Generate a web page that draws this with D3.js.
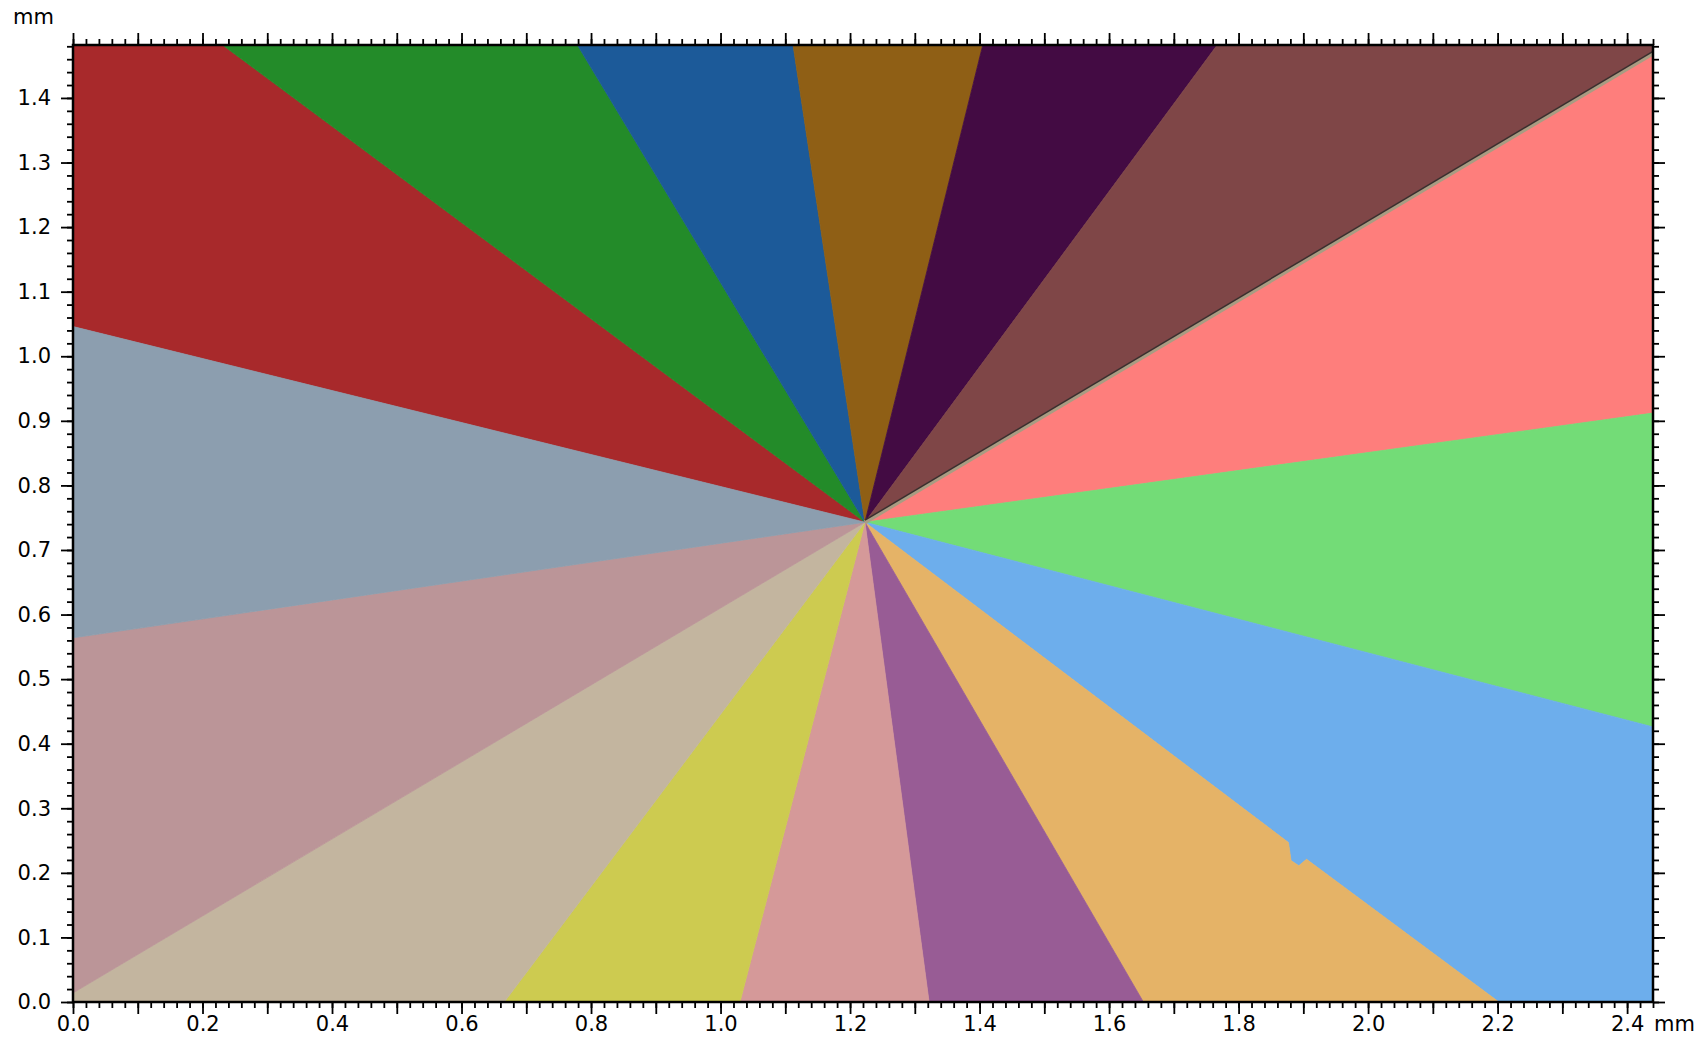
<!DOCTYPE html>
<html>
<head>
<meta charset="utf-8">
<script src="https://cdn.jsdelivr.net/npm/d3@7"></script>
<style>
  html, body { margin: 0; padding: 0; background: #fff; }
  svg { display: block; }
</style>
</head>
<body>
<div id="chart"></div>
<script>
// 1. data (mm)

// extent of the image
const xMax = 2.44, yMax = 1.482;

// junction where all grains meet
const center = [1.223, 0.743];

// grain boundaries, clockwise starting at left edge; each runs edge -> center
const boundaries = [
  [[0.000, 1.046]],
  [[0.231, yMax]],
  [[0.779, yMax]],
  [[1.112, yMax]],
  [[1.405, yMax]],
  [[1.767, yMax]],
  [[xMax, 1.469]],
  [[xMax, 0.912]],
  [[xMax, 0.426]],
  [[2.202, 0.000], [1.905, 0.221], [1.893, 0.211], [1.881, 0.219], [1.877, 0.247]],
  [[1.653, 0.000]],
  [[1.322, 0.000]],
  [[1.030, 0.000]],
  [[0.666, 0.000]],
  [[0.000, 0.014]],
  [[0.000, 0.564]]
];

// wedge colour between boundary i and i+1
const wedgeColors = [
  "#a8292b", "#238b29", "#1c5a99", "#8f5f15",
  "#430b43", "#7f4647", "#fe7e7c", "#73dc77",
  "#6daeec", "#e5b367", "#985c95", "#d59999",
  "#cdcb50", "#c3b59f", "#bb9598", "#8c9eaf"
];

const xTickLabels = [0.0, 0.2, 0.4, 0.6, 0.8, 1.0, 1.2, 1.4, 1.6, 1.8, 2.0, 2.2, 2.4];
const yTickLabels = [0.0, 0.1, 0.2, 0.3, 0.4, 0.5, 0.6, 0.7, 0.8, 0.9, 1.0, 1.1, 1.2, 1.3, 1.4];

// 2. layout
const W = 1704, H = 1045;
const margin = {top: 45, left: 73};
const plotW = 1580, plotH = 957;
const FONT = '"DejaVu Sans", Verdana, sans-serif';
const FSIZE = '21px';

const x = d3.scaleLinear().domain([0, xMax]).range([margin.left, margin.left + plotW]);
const y = d3.scaleLinear().domain([0, yMax]).range([margin.top + plotH, margin.top]);

const svg = d3.select('#chart').append('svg')
  .attr('width', W).attr('height', H);

svg.append('clipPath').attr('id', 'plot-clip')
  .append('rect')
    .attr('x', x(0)).attr('y', y(yMax))
    .attr('width', x(xMax) - x(0)).attr('height', y(0) - y(yMax));

// 3. wedges
const P = 2 * xMax + 2 * yMax;
const corners = [
  {p: [xMax, yMax], s: xMax},
  {p: [xMax, 0],    s: xMax + yMax},
  {p: [0, 0],       s: 2 * xMax + yMax},
  {p: [0, yMax],    s: P}
];
// position along the border, clockwise from the top-left corner
function perim([px, py]) {
  const e = 1e-6;
  if (py >= yMax - e) return px;
  if (px >= xMax - e) return xMax + (yMax - py);
  if (py <= e) return xMax + yMax + (xMax - px);
  return 2 * xMax + yMax + py;
}

const wedges = boundaries.map((A, i) => {
  const B = boundaries[(i + 1) % boundaries.length];
  const sA = perim(A[0]);
  let sB = perim(B[0]);
  if (sB < sA) sB += P;
  const cs = [];
  corners.forEach(c => {
    [c.s, c.s + P, c.s - P].forEach(s => { if (s > sA && s < sB) cs.push({p: c.p, s}); });
  });
  cs.sort((a, b) => a.s - b.s);
  const pts = [center].concat(A.slice().reverse(), cs.map(c => c.p), B);
  return {pts, color: wedgeColors[i]};
});

const line = d3.line().x(d => x(d[0])).y(d => y(d[1]));

const gPlot = svg.append('g').attr('clip-path', 'url(#plot-clip)');
gPlot.selectAll('path.wedge').data(wedges).join('path')
  .attr('class', 'wedge')
  .attr('d', d => line(d.pts) + 'Z')
  .attr('fill', d => d.color)
  .attr('stroke', d => d.color)
  .attr('stroke-width', 0.8);

// maroon / salmon boundary has a visible seam
const seam = boundaries[6].concat([center]);
gPlot.append('path').attr('d', line(seam))
  .attr('fill', 'none').attr('stroke', '#a89c82').attr('stroke-width', 4);
gPlot.append('path').attr('d', line(seam))
  .attr('transform', 'translate(0,-2)')
  .attr('fill', 'none').attr('stroke', '#3a2e2e').attr('stroke-width', 1.5);

// 4. axes on all four sides
const minorX = d3.range(0, 123).map(i => +(i * 0.02).toFixed(2)).filter(v => v <= xMax);
const majorX = d3.range(0, 25).map(i => +(i * 0.1).toFixed(1));
const minorY = d3.range(0, 75).map(i => +(i * 0.02).toFixed(2)).filter(v => v <= yMax);
const majorY = d3.range(0, 15).map(i => +(i * 0.1).toFixed(1));

const fmtX = v => xTickLabels.some(t => Math.abs(t - v) < 1e-6) ? d3.format('.1f')(v) : '';
const fmtY = v => yTickLabels.some(t => Math.abs(t - v) < 1e-6) ? d3.format('.1f')(v) : '';

function addAxis(axisFn, scale, values, size, pos, fmt) {
  const g = svg.append('g')
    .attr('transform', pos)
    .call(axisFn(scale).tickValues(values).tickSize(size).tickPadding(6)
      .tickFormat(fmt || (() => '')));
  g.select('.domain').remove();
  g.selectAll('.tick line').attr('stroke', '#000').attr('stroke-width', 1.8);
  g.selectAll('.tick text')
    .style('font-family', FONT).style('font-size', FSIZE).attr('fill', '#000');
  return g;
}

// bottom
addAxis(d3.axisBottom, x, minorX, 6, `translate(0,${y(0)})`);
addAxis(d3.axisBottom, x, majorX, 12, `translate(0,${y(0)})`, fmtX)
  .selectAll('.tick text').attr('y', 14).attr('dy', '0.71em');
// top
addAxis(d3.axisTop, x, minorX, 6, `translate(0,${y(yMax)})`);
addAxis(d3.axisTop, x, majorX, 12, `translate(0,${y(yMax)})`);
// left
addAxis(d3.axisLeft, y, minorY, 6, `translate(${x(0)},0)`);
addAxis(d3.axisLeft, y, majorY, 12, `translate(${x(0)},0)`, fmtY)
  .selectAll('.tick text').attr('dx', '-4');
// right
addAxis(d3.axisRight, y, minorY, 6, `translate(${x(xMax)},0)`);
addAxis(d3.axisRight, y, majorY, 12, `translate(${x(xMax)},0)`);

// frame
svg.append('rect')
  .attr('x', x(0)).attr('y', y(yMax))
  .attr('width', x(xMax) - x(0)).attr('height', y(0) - y(yMax))
  .attr('fill', 'none').attr('stroke', '#000').attr('stroke-width', 2.5);

// unit labels
svg.append('text')
  .attr('x', 13).attr('y', 24)
  .style('font-family', FONT).style('font-size', FSIZE)
  .text('mm');
svg.append('text')
  .attr('x', x(2.4) + 27).attr('y', y(0) + 29)
  .style('font-family', FONT).style('font-size', FSIZE)
  .text('mm');
</script>
</body>
</html>
